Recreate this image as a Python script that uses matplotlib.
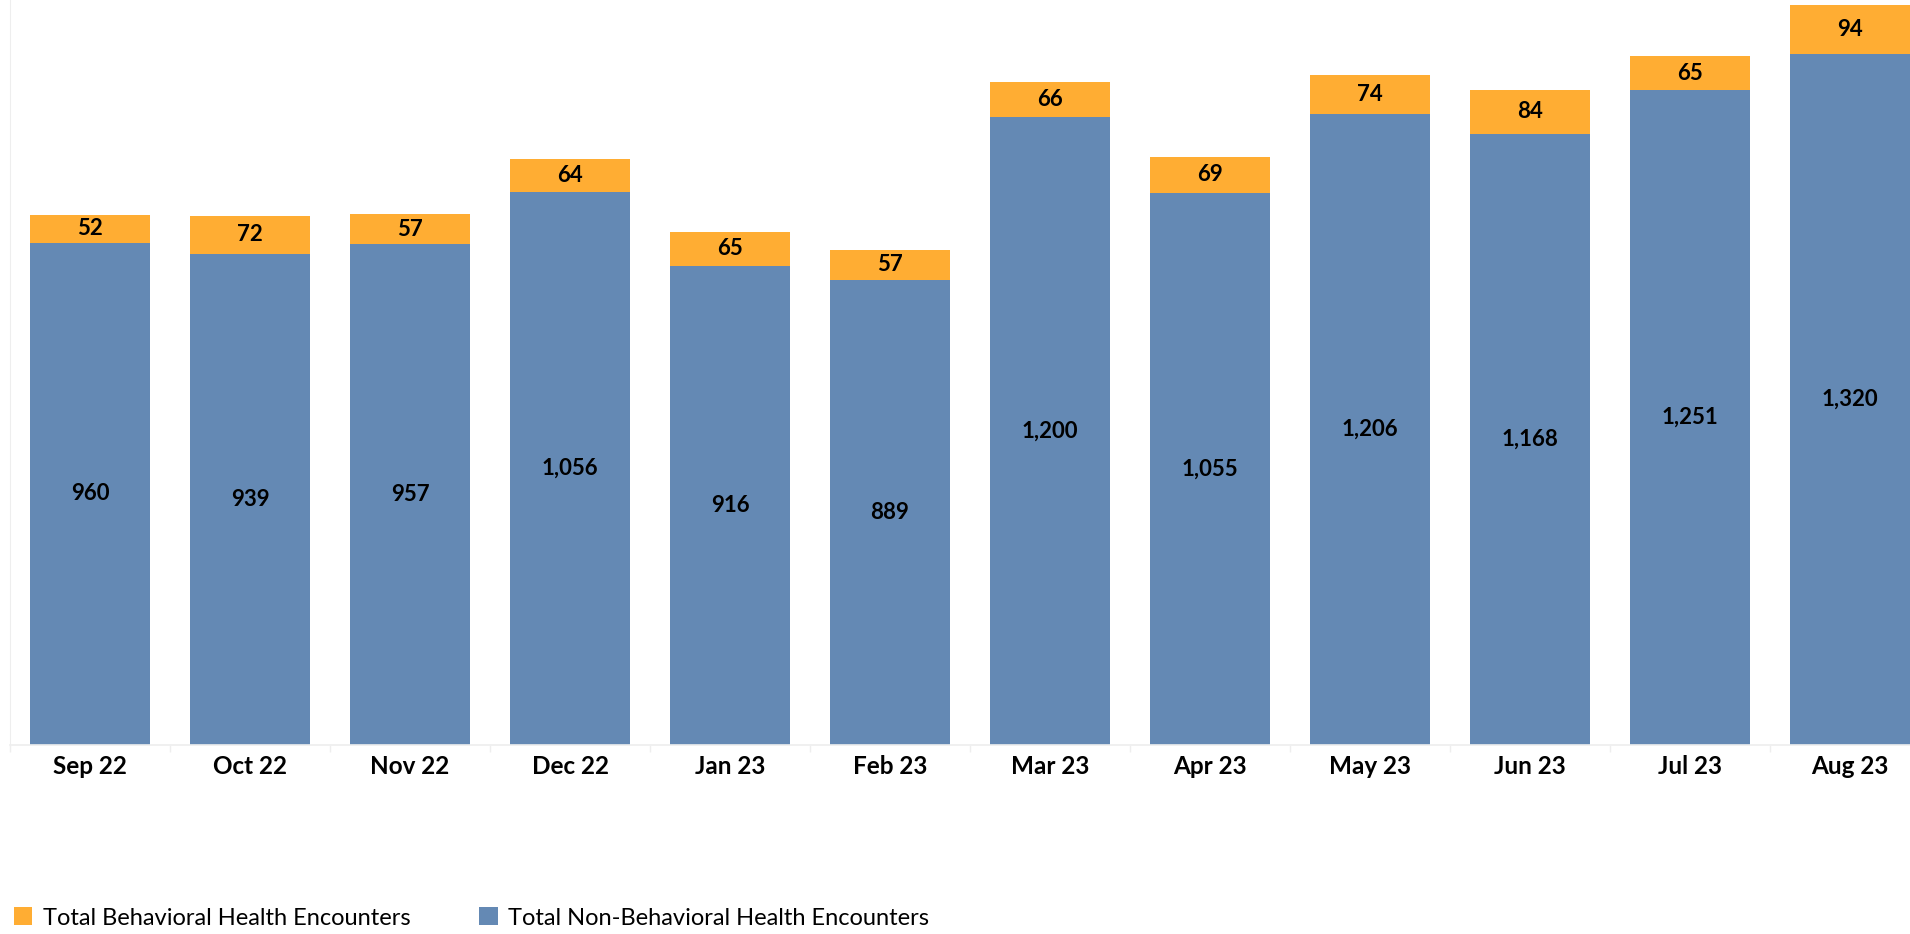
import matplotlib
matplotlib.use("Agg")
import matplotlib.pyplot as plt
import numpy as np

months = ["Sep 22", "Oct 22", "Nov 22", "Dec 22", "Jan 23", "Feb 23",
          "Mar 23", "Apr 23", "May 23", "Jun 23", "Jul 23", "Aug 23"]
non_behavioral = [960, 939, 957, 1056, 916, 889, 1200, 1055, 1206, 1168, 1251, 1320]
behavioral = [52, 72, 57, 64, 65, 57, 66, 69, 74, 84, 65, 94]

BLUE = "#6489B4"
ORANGE = "#FFAD33"
GRID = "#EEEEEE"

plt.rcParams["font.family"] = ["Lato", "DejaVu Sans"]

W, H = 1910, 934
fig = plt.figure(figsize=(W / 100, H / 100), dpi=100)
fig.patch.set_facecolor("white")

# plot area spans slightly past the right edge of the canvas
ax = fig.add_axes([10 / W, 189 / H, 1920 / W, 745 / H])

x = np.arange(len(months))
nb = np.array(non_behavioral)
bh = np.array(behavioral)

ax.bar(x, nb, width=0.75, color=BLUE, zorder=2, label="Total Non-Behavioral Health Encounters")
ax.bar(x, bh, width=0.75, bottom=nb, color=ORANGE, zorder=2, label="Total Behavioral Health Encounters")

for xi, v in zip(x, nb):
    ax.text(xi, v / 2, f"{v:,}", ha="center", va="center",
            fontsize=16, fontweight="bold", color="black", zorder=3)
for xi, b, v in zip(x, nb, bh):
    ax.text(xi, b + v / 2, f"{v:,}", ha="center", va="center",
            fontsize=16, fontweight="bold", color="black", zorder=3)

ax.set_xlim(-0.5, len(months) - 0.5)
ax.set_ylim(0, 1423.5)
ax.set_yticks([])

# category boundary ticks and centred month labels
ax.set_xticks(np.arange(-0.5, len(months), 1.0))
ax.set_xticklabels([])
ax.tick_params(axis="x", which="major", length=5, width=1, color=GRID, direction="out")
ax.set_xticks(x, minor=True)
ax.set_xticklabels(months, minor=True, fontsize=17.5, fontweight="bold")
ax.tick_params(axis="x", which="minor", length=0, pad=7)

for side in ["top", "right"]:
    ax.spines[side].set_visible(False)
ax.spines["left"].set_color(GRID)
ax.spines["bottom"].set_color(GRID)
ax.spines["bottom"].set_linewidth(1.2)

handles, labels = ax.get_legend_handles_labels()
leg = fig.legend(handles[::-1], labels[::-1], loc="center left",
                 bbox_to_anchor=(14 / W, 16 / H), ncol=2, frameon=False,
                 fontsize=17, handlelength=0.78, handleheight=0.78,
                 handletextpad=0.45, columnspacing=2.9,
                 borderaxespad=0, borderpad=0)

fig.savefig("out.png", dpi=100, facecolor="white")
